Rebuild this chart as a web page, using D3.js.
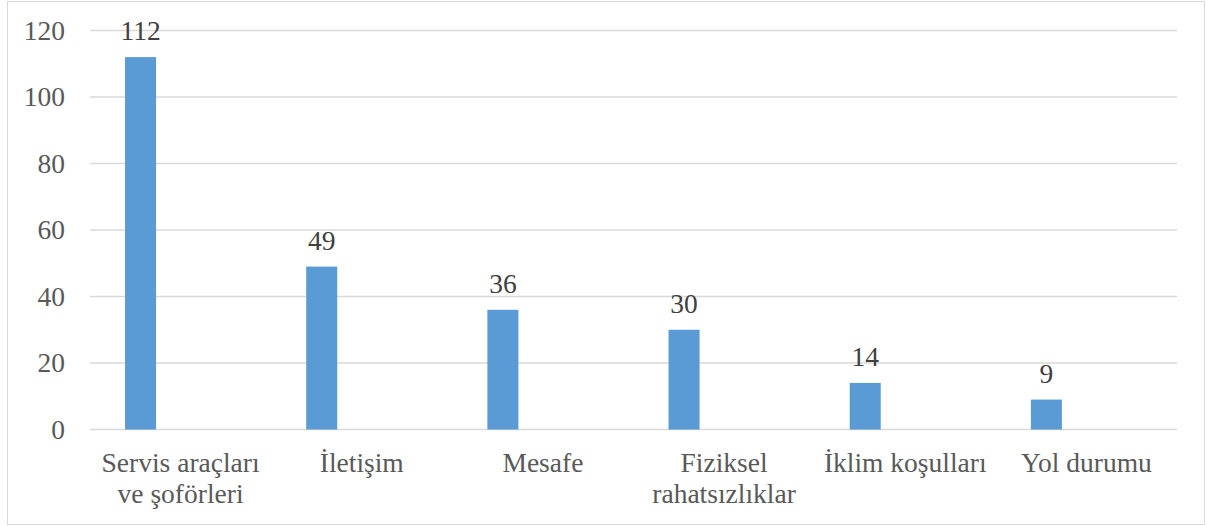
<!DOCTYPE html>
<html>
<head>
<meta charset="utf-8">
<script src="https://cdn.jsdelivr.net/npm/d3@7"></script>
<style>
  body { margin: 0; background: #fff; }
</style>
</head>
<body>
<div id="chart"></div>
<script>
var categories = [
  ["Servis araçları", "ve şoförleri"],
  ["İletişim"],
  ["Mesafe"],
  ["Fiziksel", "rahatsızlıklar"],
  ["İklim koşulları"],
  ["Yol durumu"]
];
var values = [112, 49, 36, 30, 14, 9];
var yTicks = [0, 20, 40, 60, 80, 100, 120];

var FONT = "Liberation Serif";
var FS = 27.5;

var svgWidth = 1206;
var svgHeight = 526;

var margin = { top: 30.5, right: 29, bottom: 96.5, left: 90 };
var width = svgWidth - margin.left - margin.right;
var height = svgHeight - margin.top - margin.bottom;

var svg = d3.select("#chart")
  .append("svg")
  .attr("width", svgWidth)
  .attr("height", svgHeight)
  .attr("font-family", FONT);

// outer frame
svg.append("rect")
  .attr("x", 7.5)
  .attr("y", 1.5)
  .attr("width", 1197)
  .attr("height", 523)
  .attr("fill", "none")
  .attr("stroke", "#d9d9d9")
  .attr("stroke-width", 1);

var chartGroup = svg.append("g")
  .attr("transform", `translate(${margin.left}, ${margin.top})`);

var idx = categories.map((c, i) => i);

var xScale = d3.scaleBand()
  .domain(idx)
  .range([0, width])
  .padding(0);

// two slots per category, the bar sits in the first one
var bw = xScale.bandwidth();
var xInner = d3.scaleBand()
  .domain(["a", "b"])
  .range([bw * 35 / 181, bw * 97 / 181])
  .padding(0);

var yScale = d3.scaleLinear()
  .domain([0, 120])
  .range([height, 0]);

// gridlines
chartGroup.append("g")
  .selectAll("line")
  .data(yTicks)
  .enter()
  .append("line")
  .attr("x1", 0)
  .attr("x2", width)
  .attr("y1", d => yScale(d))
  .attr("y2", d => yScale(d))
  .attr("stroke", "#d9d9d9")
  .attr("stroke-width", 1.3);

// y tick labels
var leftAxis = d3.axisLeft(yScale).tickValues(yTicks).tickSize(0).tickPadding(25);
var yAxis = chartGroup.append("g").call(leftAxis)
  .attr("font-family", FONT)
  .attr("font-size", FS);
yAxis.select(".domain").remove();
yAxis.selectAll("text")
  .attr("fill", "#595959");

// bars
chartGroup.selectAll("rect.bar")
  .data(values)
  .enter()
  .append("rect")
  .attr("class", "bar")
  .attr("x", (d, i) => xScale(i) + xInner("a"))
  .attr("y", d => yScale(d))
  .attr("width", xInner.bandwidth())
  .attr("height", d => height - yScale(d))
  .attr("fill", "#5b9bd5");

// value labels
chartGroup.selectAll("text.val")
  .data(values)
  .enter()
  .append("text")
  .attr("class", "val")
  .attr("x", (d, i) => xScale(i) + xInner("a") + xInner.bandwidth() / 2)
  .attr("y", d => yScale(d) - 17)
  .attr("text-anchor", "middle")
  .attr("font-size", FS)
  .attr("fill", "#404040")
  .text(d => d);

// category labels
var catGroup = chartGroup.append("g")
  .attr("transform", `translate(0, ${height})`);

categories.forEach(function(lines, i) {
  var cx = xScale(i) + bw / 2;
  var t = catGroup.append("text")
    .attr("x", cx)
    .attr("y", 42)
    .attr("text-anchor", "middle")
    .attr("font-size", FS)
    .attr("fill", "#595959");
  lines.forEach(function(line, j) {
    t.append("tspan")
      .attr("x", cx)
      .attr("dy", j === 0 ? 0 : 31)
      .text(line);
  });
});
</script>
</body>
</html>
